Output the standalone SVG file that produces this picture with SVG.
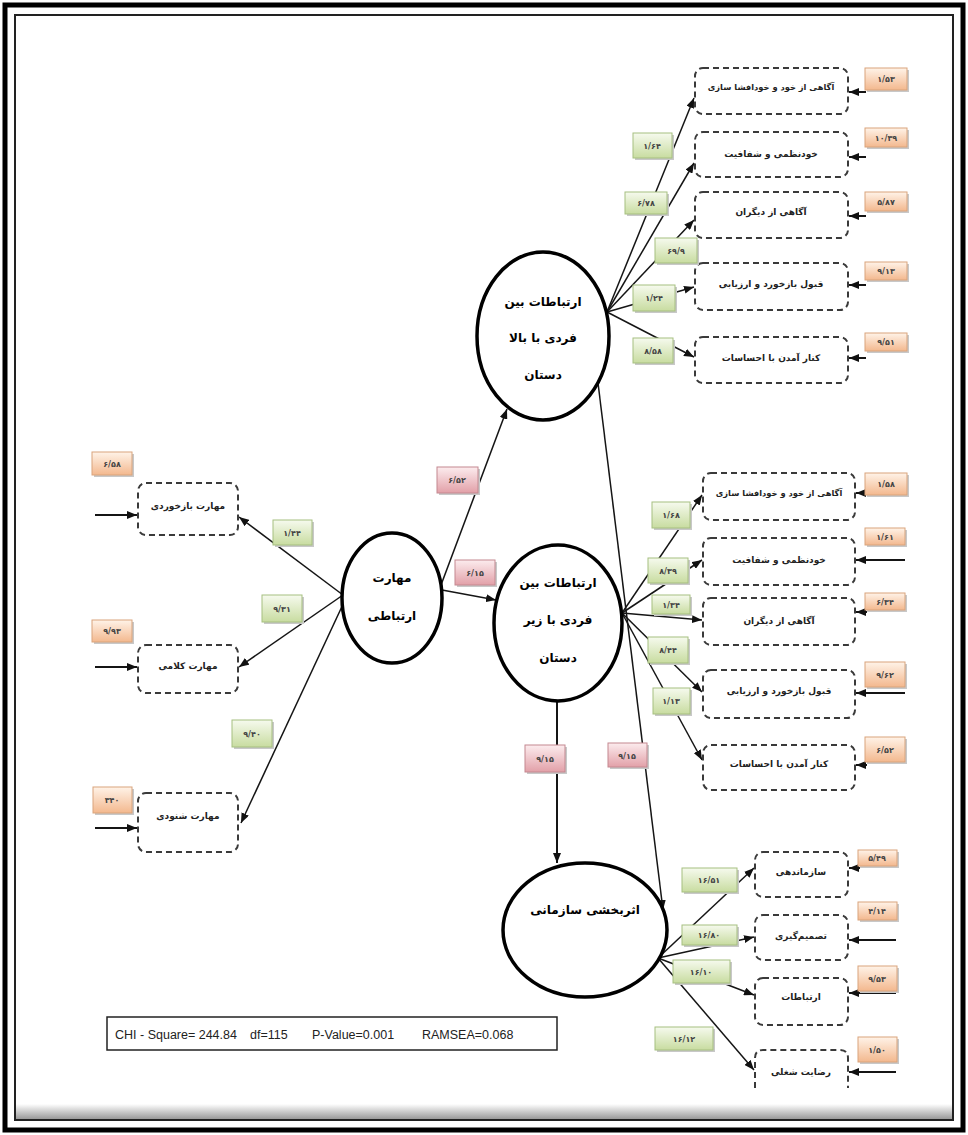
<svg xmlns="http://www.w3.org/2000/svg" width="968" height="1135" viewBox="0 0 968 1135">
<defs>
<linearGradient id="gGreen" x1="0" y1="0" x2="0" y2="1"><stop offset="0" stop-color="#f6faee"/><stop offset="1" stop-color="#c8dca0"/></linearGradient>
<linearGradient id="gOrange" x1="0" y1="0" x2="0" y2="1"><stop offset="0" stop-color="#fff3e8"/><stop offset="1" stop-color="#f3b88e"/></linearGradient>
<linearGradient id="gRed" x1="0" y1="0" x2="0" y2="1"><stop offset="0" stop-color="#fcecee"/><stop offset="1" stop-color="#e2a0a8"/></linearGradient>
<linearGradient id="gBand" x1="0" y1="0" x2="0" y2="1"><stop offset="0" stop-color="#ffffff"/><stop offset="1" stop-color="#9a9a9a"/></linearGradient>
<marker id="ah" markerUnits="userSpaceOnUse" markerWidth="10" markerHeight="8" refX="10" refY="4" orient="auto"><path d="M0,0 L10,4 L0,8 z" fill="#111"/></marker>
</defs>
<style>
.c{stroke:#151515;stroke-width:1.5;fill:none;marker-end:url(#ah)}
.cw{stroke:#151515;stroke-width:2;fill:none;marker-end:url(#ah)}
.ell{fill:#fff;stroke:#000;stroke-width:3.5}
.dbox{fill:#fff;stroke:#3a3a3a;stroke-width:2;stroke-dasharray:6 4}
.gl{fill:url(#gGreen);stroke:#a6bf80;stroke-width:1}
.ol{fill:url(#gOrange);stroke:#d9a47c;stroke-width:1}
.rl{fill:url(#gRed);stroke:#c48890;stroke-width:1}
.sh{fill:#c8c8c8}
.lt{font-family:"DejaVu Sans",sans-serif;font-size:8px;font-weight:bold;fill:#444;text-anchor:middle}
.bt{font-family:"DejaVu Sans",sans-serif;font-size:9px;font-weight:bold;fill:#222;text-anchor:middle}
.bs{font-size:8.3px}
.et{font-family:"DejaVu Sans",sans-serif;font-size:12px;font-weight:bold;fill:#000;text-anchor:middle}
.leg{font-family:"Liberation Sans",Arial,sans-serif;font-size:12.5px;fill:#222}
</style>
<rect x="0" y="0" width="968" height="1135" fill="#fff"/>
<!-- frame -->
<rect x="5" y="5" width="958" height="1125" fill="none" stroke="#000" stroke-width="5"/>
<rect x="15" y="15" width="938" height="1105" fill="none" stroke="#222" stroke-width="2"/>
<rect x="16" y="1104" width="936" height="15" fill="url(#gBand)"/>

<g id="connectors">
<line class="c" x1="607" y1="312" x2="694" y2="98"/>
<line class="c" x1="607" y1="312" x2="694" y2="163"/>
<line class="c" x1="607" y1="312" x2="694" y2="220"/>
<line class="c" x1="607" y1="312" x2="694" y2="287"/>
<line class="c" x1="607" y1="312" x2="694" y2="357"/>
<line class="cw" x1="866" y1="92" x2="849" y2="92"/>
<line class="cw" x1="866" y1="157" x2="849" y2="157"/>
<line class="cw" x1="866" y1="216" x2="849" y2="216"/>
<line class="cw" x1="866" y1="285" x2="849" y2="285"/>
<line class="cw" x1="866" y1="358" x2="849" y2="358"/>
<line class="c" x1="622" y1="613" x2="702" y2="495"/>
<line class="c" x1="622" y1="613" x2="702" y2="560"/>
<line class="c" x1="622" y1="613" x2="702" y2="620"/>
<line class="c" x1="622" y1="613" x2="702" y2="692"/>
<line class="c" x1="622" y1="613" x2="702" y2="760"/>
<line class="cw" x1="867" y1="493" x2="856" y2="493"/>
<line class="cw" x1="905" y1="560" x2="856" y2="560"/>
<line class="cw" x1="867" y1="612" x2="856" y2="612"/>
<line class="cw" x1="905" y1="693" x2="856" y2="693"/>
<line class="cw" x1="867" y1="765" x2="856" y2="765"/>
<line class="c" x1="658" y1="958" x2="754" y2="868"/>
<line class="c" x1="658" y1="958" x2="754" y2="937"/>
<line class="c" x1="658" y1="958" x2="754" y2="995"/>
<line class="c" x1="658" y1="958" x2="754" y2="1070"/>
<line class="cw" x1="860" y1="868" x2="849" y2="868"/>
<line class="cw" x1="896" y1="940" x2="849" y2="940"/>
<line class="cw" x1="896" y1="993" x2="849" y2="993"/>
<line class="cw" x1="896" y1="1072" x2="849" y2="1072"/>
<line class="c" x1="343" y1="595" x2="239" y2="517"/>
<line class="c" x1="343" y1="595" x2="239" y2="667"/>
<line class="c" x1="345" y1="600" x2="241" y2="823"/>
<line class="cw" x1="95" y1="515" x2="137" y2="515"/>
<line class="cw" x1="95" y1="667" x2="137" y2="667"/>
<line class="cw" x1="95" y1="828" x2="137" y2="828"/>
<line class="c" x1="441" y1="585" x2="507" y2="409"/>
<line class="c" x1="442" y1="590" x2="496" y2="600"/>
<line class="c" x1="598" y1="383" x2="663" y2="910"/>
<line class="cw" x1="557" y1="701" x2="557" y2="863"/>
</g>

<!-- latent ellipses -->
<g id="e1"><ellipse class="ell" cx="543" cy="336" rx="66" ry="84"/>
<text class="et" x="543" y="306">ارتباطات بین</text><text class="et" x="543" y="342">فردی با بالا</text><text class="et" x="543" y="379">دستان</text></g>
<g id="e2"><ellipse class="ell" cx="392" cy="598" rx="50" ry="65"/>
<text class="et" x="392" y="582">مهارت</text><text class="et" x="392" y="620">ارتباطی</text></g>
<g id="e3"><ellipse class="ell" cx="558" cy="623" rx="64" ry="78"/>
<text class="et" x="558" y="587">ارتباطات بین</text><text class="et" x="558" y="624">فردی با زیر</text><text class="et" x="558" y="662">دستان</text></g>
<g id="e4"><ellipse class="ell" cx="585" cy="930" rx="82" ry="67"/>
<text class="et" x="585" y="914">اثربخشی سازمانی</text></g>

<!-- top group indicators -->
<g id="t1"><rect class="dbox" x="695" y="68" width="153" height="46" rx="8"/><text class="bt bs" x="771" y="90">آگاهی از خود و خودافشا سازی</text></g>
<g id="t2"><rect class="dbox" x="695" y="132" width="153" height="45" rx="8"/><text class="bt" x="771" y="157">خودنظمی و شفافیت</text></g>
<g id="t3"><rect class="dbox" x="695" y="192" width="153" height="46" rx="8"/><text class="bt" x="771" y="215">آگاهی از دیگران</text></g>
<g id="t4"><rect class="dbox" x="695" y="263" width="153" height="47" rx="8"/><text class="bt" x="771" y="287">قبول بازخورد و ارزیابی</text></g>
<g id="t5"><rect class="dbox" x="695" y="337" width="153" height="46" rx="8"/><text class="bt" x="771" y="361">کنار آمدن با احساسات</text></g>

<!-- middle group indicators -->
<g id="m1"><rect class="dbox" x="703" y="473" width="152" height="47" rx="8"/><text class="bt bs" x="779" y="496">آگاهی از خود و خودافشا سازی</text></g>
<g id="m2"><rect class="dbox" x="703" y="538" width="152" height="47" rx="8"/><text class="bt" x="779" y="563">خودنظمی و شفافیت</text></g>
<g id="m3"><rect class="dbox" x="703" y="598" width="152" height="47" rx="8"/><text class="bt" x="779" y="624">آگاهی از دیگران</text></g>
<g id="m4"><rect class="dbox" x="703" y="670" width="152" height="48" rx="8"/><text class="bt" x="779" y="694">قبول بازخورد و ارزیابی</text></g>
<g id="m5"><rect class="dbox" x="703" y="745" width="152" height="45" rx="8"/><text class="bt" x="779" y="767">کنار آمدن با احساسات</text></g>

<!-- bottom group indicators -->
<g id="b1"><rect class="dbox" x="755" y="852" width="93" height="45" rx="8"/><text class="bt" x="801" y="875">سازماندهی</text></g>
<g id="b2"><rect class="dbox" x="755" y="915" width="93" height="45" rx="8"/><text class="bt" x="801" y="939">تصمیم‌گیری</text></g>
<g id="b3"><rect class="dbox" x="755" y="978" width="93" height="47" rx="8"/><text class="bt" x="801" y="1000">ارتباطات</text></g>
<g id="b4"><path class="dbox" d="M755,1088 V1058 Q755,1050 763,1050 H840 Q848,1050 848,1058 V1088"/><text class="bt" x="801" y="1075">رضایت شغلی</text></g>

<!-- left group indicators -->
<g id="l1"><rect class="dbox" x="138" y="483" width="100" height="52" rx="8"/><text class="bt" x="188" y="509">مهارت بازخوردی</text></g>
<g id="l2"><rect class="dbox" x="138" y="645" width="100" height="48" rx="8"/><text class="bt" x="188" y="669">مهارت کلامی</text></g>
<g id="l3"><rect class="dbox" x="138" y="793" width="100" height="59" rx="8"/><text class="bt" x="188" y="819">مهارت شنودی</text></g>

<!-- green loading labels -->
<g id="gl-top">
<rect class="sh" x="635" y="135" width="39" height="25"/><rect class="gl" x="633" y="133" width="39" height="25"/><text class="lt" x="652" y="149">۱/۶۴</text>
<rect class="sh" x="627" y="194" width="42" height="22"/><rect class="gl" x="625" y="192" width="42" height="22"/><text class="lt" x="646" y="206">۶/۷۸</text>
<rect class="sh" x="657" y="240" width="42" height="25"/><rect class="gl" x="655" y="238" width="42" height="25"/><text class="lt" x="676" y="254">۶۹/۹</text>
<rect class="sh" x="635" y="287" width="42" height="26"/><rect class="gl" x="633" y="285" width="42" height="26"/><text class="lt" x="654" y="301">۱/۲۴</text>
<rect class="sh" x="635" y="340" width="40" height="25"/><rect class="gl" x="633" y="338" width="40" height="25"/><text class="lt" x="653" y="354">۸/۵۸</text>
</g>
<g id="gl-mid">
<rect class="sh" x="654" y="504" width="38" height="26"/><rect class="gl" x="652" y="502" width="38" height="26"/><text class="lt" x="671" y="518">۱/۶۸</text>
<rect class="sh" x="650" y="560" width="40" height="25"/><rect class="gl" x="648" y="558" width="40" height="25"/><text class="lt" x="668" y="574">۸/۳۹</text>
<rect class="sh" x="654" y="597" width="38" height="19"/><rect class="gl" x="652" y="595" width="38" height="19"/><text class="lt" x="671" y="608">۱/۳۴</text>
<rect class="sh" x="650" y="639" width="40" height="26"/><rect class="gl" x="648" y="637" width="40" height="26"/><text class="lt" x="668" y="653">۸/۴۴</text>
<rect class="sh" x="655" y="690" width="37" height="26"/><rect class="gl" x="653" y="688" width="37" height="26"/><text class="lt" x="671" y="704">۱/۱۳</text>
</g>
<g id="gl-bot">
<rect class="sh" x="684" y="870" width="55" height="24"/><rect class="gl" x="682" y="868" width="55" height="24"/><text class="lt" x="709" y="883">۱۶/۵۱</text>
<rect class="sh" x="684" y="927" width="55" height="20"/><rect class="gl" x="682" y="925" width="55" height="20"/><text class="lt" x="709" y="938">۱۶/۸۰</text>
<rect class="sh" x="675" y="962" width="57" height="23"/><rect class="gl" x="673" y="960" width="57" height="23"/><text class="lt" x="701" y="975">۱۶/۱۰</text>
<rect class="sh" x="657" y="1029" width="58" height="23"/><rect class="gl" x="655" y="1027" width="58" height="23"/><text class="lt" x="684" y="1042">۱۶/۱۲</text>
</g>
<g id="gl-left">
<rect class="sh" x="275" y="522" width="39" height="25"/><rect class="gl" x="273" y="520" width="39" height="25"/><text class="lt" x="292" y="536">۱/۴۴</text>
<rect class="sh" x="264" y="597" width="40" height="27"/><rect class="gl" x="262" y="595" width="40" height="27"/><text class="lt" x="282" y="612">۹/۳۱</text>
<rect class="sh" x="234" y="722" width="40" height="27"/><rect class="gl" x="232" y="720" width="40" height="27"/><text class="lt" x="252" y="737">۹/۴۰</text>
</g>

<!-- orange error labels -->
<g id="ol-top">
<rect class="sh" x="867" y="70" width="42" height="22"/><rect class="ol" x="865" y="68" width="42" height="22"/><text class="lt" x="886" y="82">۱/۵۳</text>
<rect class="sh" x="867" y="130" width="42" height="19"/><rect class="ol" x="865" y="128" width="42" height="19"/><text class="lt" x="886" y="141">۱۰/۳۹</text>
<rect class="sh" x="867" y="194" width="42" height="19"/><rect class="ol" x="865" y="192" width="42" height="19"/><text class="lt" x="886" y="205">۵/۸۷</text>
<rect class="sh" x="867" y="264" width="42" height="18"/><rect class="ol" x="865" y="262" width="42" height="18"/><text class="lt" x="886" y="274">۹/۱۳</text>
<rect class="sh" x="867" y="335" width="42" height="18"/><rect class="ol" x="865" y="333" width="42" height="18"/><text class="lt" x="886" y="345">۹/۵۱</text>
</g>
<g id="ol-mid">
<rect class="sh" x="867" y="475" width="42" height="22"/><rect class="ol" x="865" y="473" width="42" height="22"/><text class="lt" x="886" y="487">۱/۵۸</text>
<rect class="sh" x="867" y="530" width="40" height="17"/><rect class="ol" x="865" y="528" width="40" height="17"/><text class="lt" x="885" y="540">۱/۶۱</text>
<rect class="sh" x="867" y="595" width="40" height="17"/><rect class="ol" x="865" y="593" width="40" height="17"/><text class="lt" x="885" y="605">۶/۳۴</text>
<rect class="sh" x="867" y="664" width="40" height="25"/><rect class="ol" x="865" y="662" width="40" height="25"/><text class="lt" x="885" y="678">۹/۶۲</text>
<rect class="sh" x="867" y="739" width="40" height="25"/><rect class="ol" x="865" y="737" width="40" height="25"/><text class="lt" x="885" y="753">۶/۵۲</text>
</g>
<g id="ol-bot">
<rect class="sh" x="860" y="852" width="39" height="16"/><rect class="ol" x="858" y="850" width="39" height="16"/><text class="lt" x="877" y="861">۵/۴۹</text>
<rect class="sh" x="860" y="904" width="39" height="18"/><rect class="ol" x="858" y="902" width="39" height="18"/><text class="lt" x="877" y="914">۴/۱۴</text>
<rect class="sh" x="860" y="968" width="39" height="25"/><rect class="ol" x="858" y="966" width="39" height="25"/><text class="lt" x="877" y="982">۹/۵۳</text>
<rect class="sh" x="860" y="1039" width="39" height="25"/><rect class="ol" x="858" y="1037" width="39" height="25"/><text class="lt" x="877" y="1053">۱/۵۰</text>
</g>
<g id="ol-left">
<rect class="sh" x="94" y="454" width="40" height="23"/><rect class="ol" x="92" y="452" width="40" height="23"/><text class="lt" x="112" y="467">۶/۵۸</text>
<rect class="sh" x="94" y="622" width="40" height="22"/><rect class="ol" x="92" y="620" width="40" height="22"/><text class="lt" x="112" y="634">۹/۹۳</text>
<rect class="sh" x="95" y="789" width="39" height="26"/><rect class="ol" x="93" y="787" width="39" height="26"/><text class="lt" x="112" y="803">۳۴۰</text>
</g>

<!-- red structural labels -->
<g id="rl">
<rect class="sh" x="439" y="469" width="41" height="26"/><rect class="rl" x="437" y="467" width="41" height="26"/><text class="lt" x="457" y="483">۶/۵۲</text>
<rect class="sh" x="457" y="562" width="40" height="25"/><rect class="rl" x="455" y="560" width="40" height="25"/><text class="lt" x="475" y="576">۶/۱۵</text>
<rect class="sh" x="527" y="747" width="40" height="27"/><rect class="rl" x="525" y="745" width="40" height="27"/><text class="lt" x="545" y="762">۹/۱۵</text>
<rect class="sh" x="610" y="745" width="39" height="24"/><rect class="rl" x="608" y="743" width="39" height="24"/><text class="lt" x="627" y="759">۹/۱۵</text>
</g>

<!-- fit statistics -->
<g id="legend">
<rect x="107" y="1017" width="450" height="33" fill="#fff" stroke="#222" stroke-width="1.5"/>
<text class="leg" x="115" y="1039">CHI - Square= 244.84</text>
<text class="leg" x="250" y="1039">df=115</text>
<text class="leg" x="312" y="1039">P-Value=0.001</text>
<text class="leg" x="422" y="1039">RAMSEA=0.068</text>
</g>
</svg>
